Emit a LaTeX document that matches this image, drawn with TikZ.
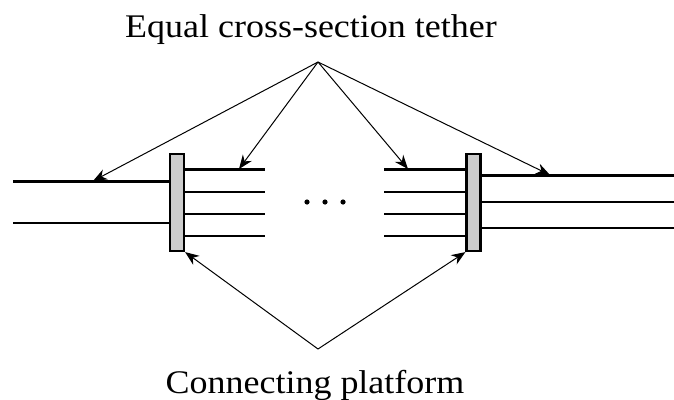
\documentclass[tikz,border=0pt]{standalone}
\usepackage{fontspec}
\setmainfont{Liberation Serif}
\usetikzlibrary{arrows.meta}
\begin{document}
\begin{tikzpicture}[x=1pt,y=-1pt,
  tetherline/.style={line width=2.4pt, line cap=butt},
  platform/.style={draw, line width=2.2pt, fill=black!20, rectangle,
    minimum width=14pt, minimum height=97pt, inner sep=0pt},
  pointer/.style={line width=1pt, -{Stealth[length=14pt, width=11pt, inset=4.5pt]}},
  caption/.style={font=\fontsize{33}{36}\selectfont, inner sep=0pt, anchor=base}
]
\useasboundingbox (0,0) rectangle (674,399);

% connecting platforms
\node[platform] (pl) at (177,202.5) {};
\node[platform] (pr) at (473.5,202.5) {};

% left outer tether (two strands)
\coordinate (la) at (13,181.5);
\coordinate (lb) at (13,223);
\draw[tetherline] (la) -- (la -| pl.west);
\draw[tetherline] (lb) -- (lb -| pl.west);

% inner tether strands, left group
\foreach \y [count=\i] in {169.5,192,214,236}{
  \coordinate (ia\i) at (265,\y);
  \draw[tetherline] (ia\i -| pl.east) -- (ia\i);
}
% inner tether strands, right group
\foreach \y [count=\i] in {169.5,192,214,236}{
  \coordinate (ib\i) at (384,\y);
  \draw[tetherline] (ib\i) -- (ib\i -| pr.west);
}
% right outer tether (three strands)
\foreach \y [count=\i] in {175.5,202,228}{
  \coordinate (ra\i) at (674,\y);
  \draw[tetherline] (ra\i -| pr.east) -- (ra\i);
}

% ellipsis between the groups
\foreach \x [count=\i] in {307,325,343}{
  \fill (\x,202) circle (2.6pt);
}

% labels
\node[caption] (top) at (311,37) {\scalebox{1.09}[1]{Equal cross-section tether}};
\node[caption] (bot) at (315,393) {\scalebox{1.09}[1]{Connecting platform}};

% label pointers
\coordinate (apexT) at (318,62);
\coordinate (apexB) at (318,349);
\coordinate (t1) at (93,181);
\coordinate (t2) at (239,169);
\coordinate (t3) at (408,169);
\coordinate (t4) at (550,175);
\foreach \t in {t1,t2,t3,t4}{
  \draw[pointer] (apexT) -- (\t);
}
\draw[pointer] (apexB) -- (pl.south east);
\draw[pointer] (apexB) -- (pr.south west);
\end{tikzpicture}
\end{document}
